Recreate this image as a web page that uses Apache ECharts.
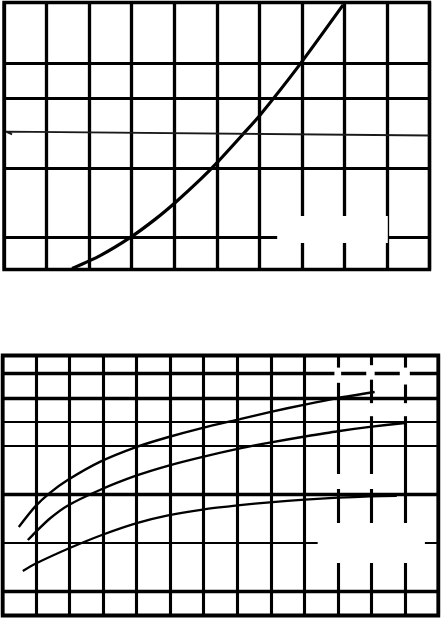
<!DOCTYPE html>
<html>
<head>
<meta charset="utf-8">
<script src="https://cdn.jsdelivr.net/npm/echarts@6/dist/echarts.min.js"></script>
<style>
  html, body { margin: 0; padding: 0; background: #fff; }
  #chart { width: 442px; height: 618px; }
</style>
</head>
<body>
<div id="chart"></div>
<script>
// Upper panel: steep rising curve and a nearly flat reference line
const upperCurve = [
  [1.60, 0.11], [2.26, 0.48], [2.98, 1.01], [3.55, 1.52], [4.04, 2.02],
  [4.61, 2.66], [5.03, 3.18], [5.59, 3.93], [6.02, 4.52], [6.91, 5.90],
  [7.97, 7.68]
];
const upperFlat = [[0.19, 3.96], [0.05, 4.04], [9.99, 3.93]];
const upperRulesY = [1, 3, 5, 6];

// Lower panel: three saturating curves
const lowerCurveA = [
  [0.48, 3.66], [0.96, 4.49], [1.40, 5.06], [1.94, 5.60], [2.90, 6.35],
  [4.00, 6.97], [4.90, 7.36], [5.97, 7.76], [7.08, 8.12], [7.97, 8.41],
  [9.02, 8.72], [10.00, 8.99], [11.10, 9.24]
];
const lowerCurveB = [
  [0.75, 3.12], [0.96, 3.42], [1.40, 4.00], [1.91, 4.52], [2.90, 5.19],
  [4.00, 5.79], [4.90, 6.18], [5.97, 6.56], [7.08, 6.91], [7.97, 7.15],
  [9.02, 7.40], [10.00, 7.62], [10.96, 7.80], [12.00, 7.96]
];
const lowerCurveC = [
  [0.60, 1.84], [0.96, 2.13], [2.00, 2.79], [2.96, 3.33], [4.00, 3.82],
  [4.90, 4.13], [5.97, 4.38], [7.08, 4.56], [7.97, 4.68], [9.02, 4.79],
  [10.00, 4.87], [10.96, 4.92], [11.76, 4.95]
];
const lowerHeavyY = [1, 5, 9, 10];
const lowerLightY = [3, 7, 8];

// Blank label panels (data coordinates: gridIndex, x0, y0, x1, y1)
const blankPanels = [
  [0, 6.42, 1.62, 9.02, 0.84],
  [1, 9.40, 3.82, 12.60, 2.17],
  [1, 9.76, 5.85, 11.25, 5.23],
  [1, 10.80, 8.78, 11.10, 8.24],
  [1, 11.85, 8.78, 12.15, 8.24],
  [1, 9.90, 10.25, 10.10, 9.62],
  [1, 10.85, 10.35, 11.10, 9.75],
  [1, 11.85, 10.25, 12.15, 9.55]
];

const chart = echarts.init(document.getElementById('chart'), null, { renderer: 'canvas' });

const hiddenAxis = {
  axisLine: { show: false }, axisTick: { show: false }, axisLabel: { show: false }
};

function rules(values, width) {
  return values.map(v => ({ yAxis: v, lineStyle: { color: '#000', width: width, type: 'solid' } }));
}

const curveBase = { type: 'line', smooth: 0.25, showSymbol: false, silent: true };

chart.setOption({
  animation: false,
  backgroundColor: '#fff',
  grid: [
    { left: 4, top: 2.5, width: 425.5, height: 267, show: true, borderColor: '#000', borderWidth: 3.4 },
    { left: 2.7, top: 355.5, width: 435.6, height: 260, show: true, borderColor: '#000', borderWidth: 3.8 }
  ],
  xAxis: [
    Object.assign({ gridIndex: 0, type: 'value', min: 0, max: 10, interval: 1,
      splitLine: { show: true, lineStyle: { color: '#000', width: 3.3 } } }, hiddenAxis),
    Object.assign({ gridIndex: 1, type: 'value', min: 0, max: 13, interval: 1,
      splitLine: { show: true, lineStyle: { color: '#000', width: 3.1 } } }, hiddenAxis)
  ],
  yAxis: [
    Object.assign({ gridIndex: 0, type: 'value', min: 0.08, max: 7.75, splitLine: { show: false } }, hiddenAxis),
    Object.assign({ gridIndex: 1, type: 'value', min: 0, max: 10.75, splitLine: { show: false } }, hiddenAxis)
  ],
  series: [
    Object.assign({}, curveBase, {
      xAxisIndex: 0, yAxisIndex: 0, data: upperCurve,
      lineStyle: { color: '#000', width: 3.2 },
      markLine: { silent: true, symbol: 'none', label: { show: false }, data: rules(upperRulesY, 3.1) }
    }),
    {
      type: 'line', xAxisIndex: 0, yAxisIndex: 0, data: upperFlat,
      showSymbol: false, silent: true,
      lineStyle: { color: '#1a1a1a', width: 1.8 }
    },
    Object.assign({}, curveBase, {
      xAxisIndex: 1, yAxisIndex: 1, data: lowerCurveA,
      lineStyle: { color: '#000', width: 2.4 },
      markLine: { silent: true, symbol: 'none', label: { show: false },
        data: rules(lowerHeavyY, 3.3).concat(rules(lowerLightY, 1.9)) }
    }),
    Object.assign({}, curveBase, {
      xAxisIndex: 1, yAxisIndex: 1, data: lowerCurveB,
      lineStyle: { color: '#000', width: 2.4 }
    }),
    Object.assign({}, curveBase, {
      xAxisIndex: 1, yAxisIndex: 1, data: lowerCurveC,
      lineStyle: { color: '#000', width: 2.2 }
    })
  ]
});

// White label panels placed through the grids' own scales
const graphics = blankPanels.map(p => {
  const a = chart.convertToPixel({ gridIndex: p[0] }, [p[1], p[2]]);
  const b = chart.convertToPixel({ gridIndex: p[0] }, [p[3], p[4]]);
  return {
    type: 'rect', z: 100, silent: true,
    shape: { x: Math.min(a[0], b[0]), y: Math.min(a[1], b[1]),
             width: Math.abs(b[0] - a[0]), height: Math.abs(b[1] - a[1]) },
    style: { fill: '#fff' }
  };
});
chart.setOption({ graphic: graphics });
</script>
</body>
</html>
